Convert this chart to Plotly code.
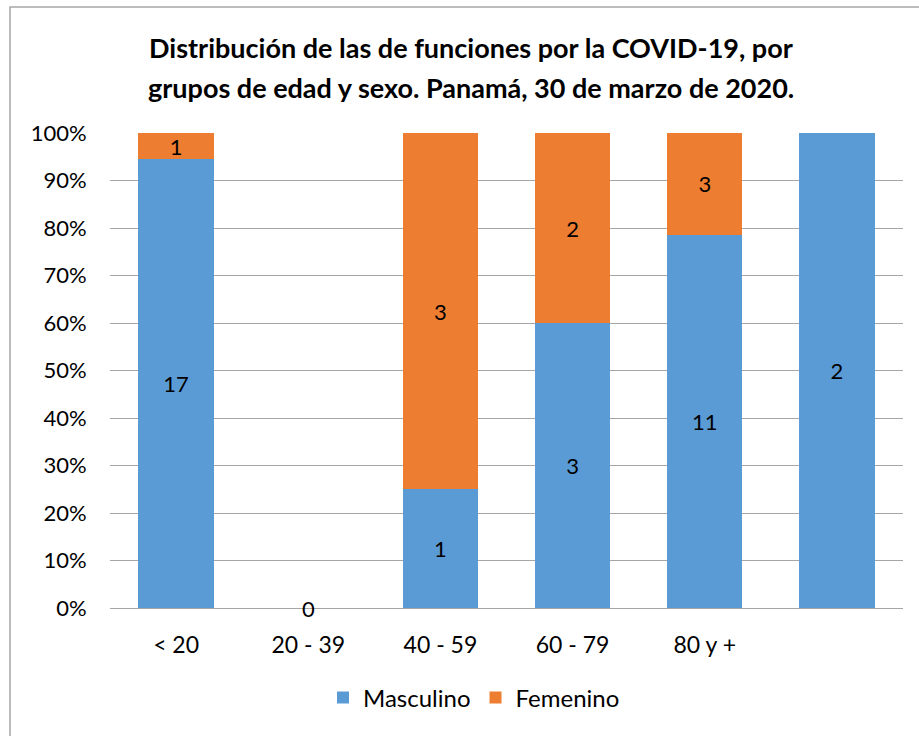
import plotly.graph_objects as go

categories = ["< 20", "20 - 39", "40 - 59", "60 - 79", "80 y +", " "]
masculino = [17, 0, 1, 3, 11, 2]
femenino = [1, 0, 3, 2, 3, 0]
title_lines = ["Distribución de las de funciones por la COVID-19, por",
               "grupos de edad y sexo. Panamá, 30 de marzo de 2020."]

totals = [m + f for m, f in zip(masculino, femenino)]
m_pct = [m / t * 100 if t else 0 for m, t in zip(masculino, totals)]
f_pct = [f / t * 100 if t else 0 for f, t in zip(femenino, totals)]
m_txt = [str(m) if m else "" for m in masculino]
f_txt = [str(f) if f else "" for f in femenino]

FONT = "Lato, 'Open Sans', sans-serif"
BLUE = "#5B9BD5"
ORANGE = "#ED7D31"
LBL = 22

fig = go.Figure()
fig.add_trace(go.Bar(x=categories, y=m_pct, name="Masculino", marker_color=BLUE,
                     marker_line_width=0, text=m_txt, textposition="inside",
                     insidetextanchor="middle", textangle=0,
                     textfont=dict(color="#000000", size=LBL, family=FONT)))
fig.add_trace(go.Bar(x=categories, y=f_pct, name="Femenino", marker_color=ORANGE,
                     marker_line_width=0, text=f_txt, textposition="inside",
                     insidetextanchor="middle", textangle=0,
                     textfont=dict(color="#000000", size=LBL, family=FONT)))

# label for empty category
for c, t in zip(categories, totals):
    if t == 0:
        fig.add_annotation(x=c, y=0, text=str(t), showarrow=False, xref="x", yref="y",
                           font=dict(size=LBL, color="#000000", family=FONT), yanchor="middle")

W, H = 919, 736
L, R, T, B = 110, 16, 133, 128
pw, ph = W - L - R, H - T - B

def px_x(x):
    return (x - L) / pw

def px_y(y):
    return (H - B - y) / ph

for i, (line, yc) in enumerate(zip(title_lines, [47, 87])):
    fig.add_annotation(text="<b>" + line + "</b>", x=px_x(471), y=px_y(yc), xref="paper", yref="paper",
                       showarrow=False, xanchor="center", yanchor="middle",
                       font=dict(size=27, color="#000000", family=FONT))

fig.add_shape(type="rect", xref="paper", yref="paper", x0=px_x(10), x1=px_x(960),
              y0=px_y(800), y1=px_y(7), line=dict(color="#A6A6A6", width=1.5),
              fillcolor="rgba(0,0,0,0)", layer="below")

fig.update_layout(
    width=W, height=H, barmode="stack", bargap=0.43,
    margin=dict(l=L, r=R, t=T, b=B, autoexpand=False),
    paper_bgcolor="white", plot_bgcolor="white",
    font=dict(family=FONT, size=22, color="#000000"),
    uniformtext=dict(minsize=LBL, mode="show"),
    legend=dict(orientation="h", x=px_x(474), xanchor="center", y=px_y(698), yanchor="middle",
                font=dict(size=24, family=FONT), itemwidth=30, traceorder="normal"),
    xaxis=dict(showgrid=False, showline=False, ticks="outside", ticklen=16,
               tickcolor="rgba(0,0,0,0)", tickfont=dict(size=23, family=FONT)),
    yaxis=dict(range=[0, 100], dtick=10, ticksuffix="%", showgrid=True, gridcolor="#A6A6A6",
               gridwidth=1, zeroline=True, zerolinecolor="#A6A6A6", zerolinewidth=1,
               showline=False, ticks="outside", ticklen=18, tickcolor="rgba(0,0,0,0)",
               tickfont=dict(size=22, family=FONT)),
)

fig.write_html("out.html", post_script="document.body.style.margin='0';",
               config={"displayModeBar": False})
